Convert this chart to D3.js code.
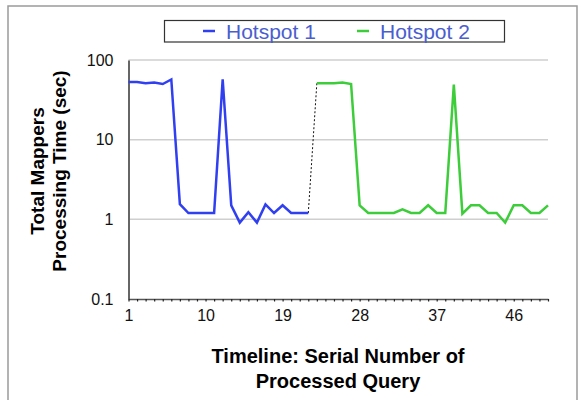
<!DOCTYPE html>
<html>
<head>
<meta charset="utf-8">
<script src="https://cdn.jsdelivr.net/npm/d3@7"></script>
<style>
  body { margin: 0; background: #fff; }
  text { font-family: 'Liberation Sans', Helvetica, Arial, sans-serif; }
</style>
</head>
<body>
<svg id="chart" width="579" height="400"></svg>
<script>
// query serial numbers (x) and processing times in seconds (y)
const hotspot1Queries = d3.range(1, 23);
const hotspot1Values = [53, 53, 51, 52, 50, 57, 1.55, 1.2, 1.2, 1.2, 1.2, 57,
  1.5, 0.91, 1.23, 0.91, 1.54, 1.2, 1.5, 1.2, 1.2, 1.2];
const hotspot2Queries = d3.range(23, 51);
const hotspot2Values = [51, 51, 51, 52, 50, 1.5, 1.2, 1.2, 1.2, 1.2, 1.33, 1.2,
  1.2, 1.5, 1.2, 1.2, 49, 1.18, 1.5, 1.5, 1.2, 1.2, 0.91, 1.5, 1.5, 1.2, 1.2, 1.5];
const xTickLabels = [1, 10, 19, 28, 37, 46];
const yTickLabels = [0.1, 1, 10, 100];
const seriesNames = ['Hotspot 1', 'Hotspot 2'];
const seriesColors = ['#3040f0', '#3dcc3a'];

const svg = d3.select('#chart');
const margin = { top: 60, right: 31, bottom: 101, left: 128.5 };
const width = 579 - margin.left - margin.right;
const height = 400 - margin.top - margin.bottom;

// outer frame
svg.append('rect')
  .attr('x', 8).attr('y', 6)
  .attr('width', 569).attr('height', 420)
  .attr('fill', 'none')
  .attr('stroke', '#9a9a9a')
  .attr('stroke-width', 1.5);

const x = d3.scaleLinear().domain([1, 50]).range([0, width]);
const y = d3.scaleLog().domain([0.1, 100]).range([height, 0]);

const g = svg.append('g').attr('transform', `translate(${margin.left},${margin.top})`);

// gridlines
g.append('g')
  .selectAll('line')
  .data(yTickLabels.filter(d => d > 0.1))
  .enter().append('line')
  .attr('x1', 0).attr('x2', width)
  .attr('y1', d => y(d)).attr('y2', d => y(d))
  .attr('stroke', '#cfcfcf')
  .attr('stroke-width', 1.5);

// y axis
const yAxis = g.append('g')
  .call(d3.axisLeft(y).tickValues(yTickLabels).tickSize(0).tickPadding(15)
    .tickFormat(d => String(d)));
yAxis.select('.domain').attr('stroke', '#666').attr('stroke-width', 2);
yAxis.selectAll('text')
  .attr('font-size', 16)
  .attr('fill', '#111')
  .attr('font-family', "'Liberation Sans', Helvetica, Arial, sans-serif");

// x axis: minor ticks on every query, labels every 9th
const xAxis = g.append('g')
  .attr('transform', `translate(0,${height})`)
  .call(d3.axisBottom(x).tickValues(d3.range(1, 51)).tickSize(2.5).tickSizeOuter(0)
    .tickFormat(d => (xTickLabels.includes(d) ? d : '')));
xAxis.select('.domain').attr('stroke', '#555').attr('stroke-width', 1.5);
xAxis.selectAll('.tick line').attr('stroke', '#222').attr('stroke-width', 1.2);
xAxis.selectAll('text')
  .attr('font-size', 16)
  .attr('fill', '#111')
  .attr('dy', '1.05em')
  .attr('font-family', "'Liberation Sans', Helvetica, Arial, sans-serif");

const line = d3.line()
  .x(d => x(d.q))
  .y(d => y(d.v));

const series = [
  hotspot1Queries.map((q, i) => ({ q, v: hotspot1Values[i] })),
  hotspot2Queries.map((q, i) => ({ q, v: hotspot2Values[i] }))
];

// dotted connector between the two hotspots
const last1 = series[0][series[0].length - 1];
const first2 = series[1][0];
g.append('path')
  .attr('d', line([last1, first2]))
  .attr('fill', 'none')
  .attr('stroke', '#111')
  .attr('stroke-width', 1)
  .attr('stroke-dasharray', '2,2');

g.selectAll('.series')
  .data(series)
  .enter().append('path')
  .attr('class', 'series')
  .attr('fill', 'none')
  .attr('stroke-width', 2.5)
  .attr('stroke-linejoin', 'miter')
  .attr('d', d => line(d))
  .style('stroke', (d, i) => seriesColors[i]);

// axis titles
const yTitle = svg.append('text')
  .attr('transform', 'translate(0,171) rotate(-90)')
  .attr('text-anchor', 'middle')
  .attr('font-size', 19)
  .attr('font-weight', 'bold')
  .attr('fill', '#000');
yTitle.append('tspan').attr('x', 0).attr('y', 44).text('Total Mappers');
yTitle.append('tspan').attr('x', 0).attr('y', 66).text('Processing Time (sec)');

const xTitle = svg.append('text')
  .attr('text-anchor', 'middle')
  .attr('font-size', 20)
  .attr('font-weight', 'bold')
  .attr('fill', '#000');
xTitle.append('tspan').attr('x', 338).attr('y', 363).text('Timeline: Serial Number of');
xTitle.append('tspan').attr('x', 338).attr('y', 388).text('Processed Query');

// legend
const legend = svg.append('g');
legend.append('rect')
  .attr('x', 164.5).attr('y', 20.5)
  .attr('width', 340).attr('height', 21.5)
  .attr('fill', '#fff')
  .attr('stroke', '#333')
  .attr('stroke-width', 1.2);
const legendX = [203, 357];
seriesNames.forEach((name, i) => {
  legend.append('line')
    .attr('x1', legendX[i]).attr('x2', legendX[i] + 12)
    .attr('y1', 31).attr('y2', 31)
    .attr('stroke', seriesColors[i])
    .attr('stroke-width', 2.5);
  legend.append('text')
    .attr('x', legendX[i] + 23)
    .attr('y', 38.5)
    .attr('font-size', 21)
    .attr('fill', '#4a5ed0')
    .text(name);
});
</script>
</body>
</html>
